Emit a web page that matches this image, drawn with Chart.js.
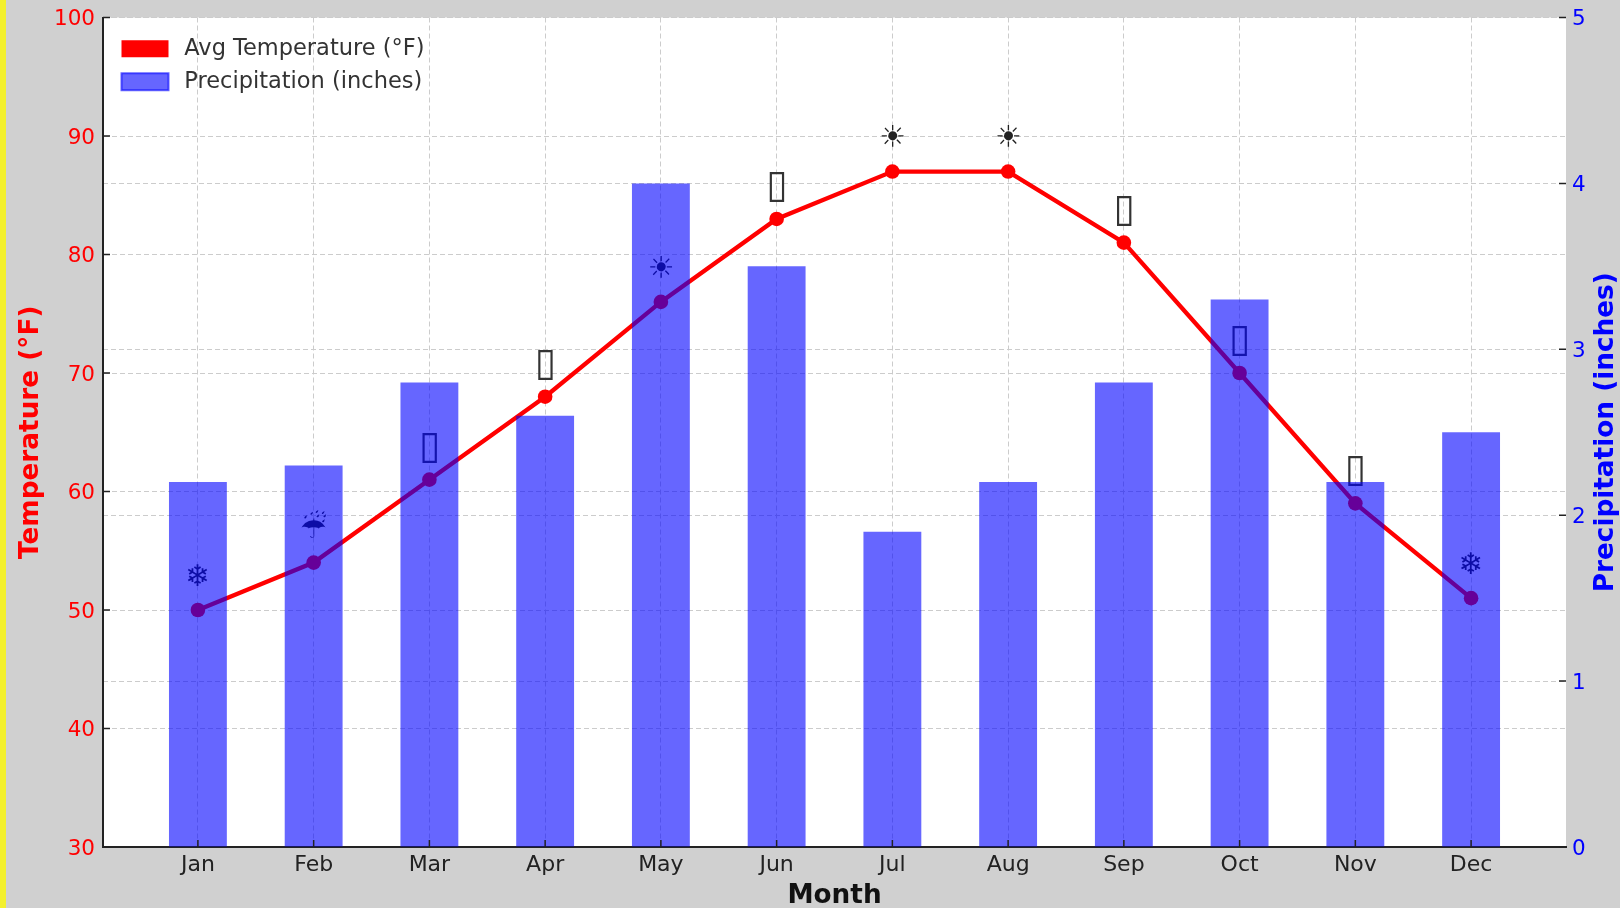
<!DOCTYPE html>
<html>
<head>
<meta charset="utf-8">
<title>Temperature and precipitation</title>
<script src="https://cdn.jsdelivr.net/npm/chart.js@4"></script>
<style>
  html, body { margin: 0; padding: 0; background: #d0d0d0; overflow: hidden; }
  #wrap { position: absolute; left: 0; top: 0; width: 1620px; height: 908px; }
  #strip { position: absolute; left: 0; top: 0; width: 6px; height: 908px; background: #f3f02e; }
</style>
</head>
<body>
<div id="wrap"><canvas id="climateChart" width="1620" height="908"></canvas></div>
<div id="strip"></div>
<script>
const MONTHS = ['Jan', 'Feb', 'Mar', 'Apr', 'May', 'Jun', 'Jul', 'Aug', 'Sep', 'Oct', 'Nov', 'Dec'];
const TEMPERATURE = [50, 54, 61, 68, 76, 83, 87, 87, 81, 70, 59, 51];
const PRECIPITATION = [2.2, 2.3, 2.8, 2.6, 4.0, 3.5, 1.9, 2.2, 2.8, 3.3, 2.2, 2.5];
// the picture shows empty boxes where its font had no glyph
const BOX = '▯';
const ICONS = ['❄', '☔', BOX, BOX, '☀', BOX, '☀', '☀', BOX, BOX, BOX, '❄'];
const ICON_OFFSET = 3;
const FONT = '"DejaVu Sans"';

const toPoints = (values) => values.map((v, i) => ({ x: i, y: v }));

// white plot area, inward ticks, icons and the bottom-to-top right title
const decorPlugin = {
  id: 'decor',
  afterLayout(chart) {
    chart.legend.left += 8;
    chart.legend.top += 27;
    // y tick labels sit a little low in the picture
    [chart.scales.y, chart.scales.y2].forEach((scale) => {
      scale.getLabelItems(chart.chartArea).forEach((item) => {
        item.options.translation[1] += 2;
      });
    });
  },
  beforeDraw(chart) {
    const a = chart.chartArea;
    const ctx = chart.ctx;
    ctx.save();
    ctx.fillStyle = '#ffffff';
    ctx.fillRect(a.left, a.top, a.right - a.left, a.bottom - a.top);
    ctx.restore();
  },
  beforeDatasetsDraw(chart) {
    const ctx = chart.ctx;
    const x = chart.scales.x;
    const y = chart.scales.y;
    ctx.save();
    ctx.textAlign = 'center';
    ctx.textBaseline = 'middle';
    ICONS.forEach((icon, i) => {
      ctx.font = (icon === BOX ? 39 : 30) + 'px ' + FONT;
      ctx.fillStyle = icon === BOX ? '#333333' : '#222222';
      ctx.fillText(icon, x.getPixelForValue(i), y.getPixelForValue(TEMPERATURE[i] + ICON_OFFSET) + 3.5);
    });
    ctx.restore();
  },
  afterDraw(chart) {
    const ctx = chart.ctx;
    const a = chart.chartArea;
    const { x, y, y2 } = chart.scales;
    ctx.save();
    ctx.strokeStyle = '#222222';
    ctx.lineWidth = 1.5;
    ctx.beginPath();
    x.ticks.forEach((t) => {
      const px = x.getPixelForValue(t.value);
      ctx.moveTo(px, a.bottom);
      ctx.lineTo(px, a.bottom - 7);
    });
    y.ticks.forEach((t) => {
      const py = y.getPixelForValue(t.value);
      ctx.moveTo(a.left, py);
      ctx.lineTo(a.left + 7, py);
    });
    y2.ticks.forEach((t) => {
      const py = y2.getPixelForValue(t.value);
      ctx.moveTo(a.right, py);
      ctx.lineTo(a.right - 7, py);
    });
    ctx.stroke();
    ctx.translate(1606, (a.top + a.bottom) / 2);
    ctx.rotate(-Math.PI / 2);
    ctx.font = 'bold 26.3px ' + FONT;
    ctx.fillStyle = '#0000ff';
    ctx.textAlign = 'center';
    ctx.textBaseline = 'middle';
    ctx.fillText('Precipitation (inches)', 0, 0);
    ctx.restore();
  }
};

const climateChart = new Chart(document.getElementById('climateChart').getContext('2d'), {
  data: {
    datasets: [
      {
        type: 'line',
        label: 'Avg Temperature (°F)',
        data: toPoints(TEMPERATURE),
        yAxisID: 'y',
        borderColor: '#ff0000',
        backgroundColor: '#ff0000',
        borderWidth: 4.3,
        pointRadius: 7.3,
        pointBackgroundColor: '#ff0000',
        pointBorderWidth: 0,
        tension: 0,
        order: 2
      },
      {
        type: 'bar',
        label: 'Precipitation (inches)',
        data: toPoints(PRECIPITATION),
        yAxisID: 'y2',
        backgroundColor: 'rgba(0, 0, 255, 0.6)',
        borderColor: 'rgba(0, 0, 255, 0.6)',
        borderWidth: 0,
        barPercentage: 0.5,
        categoryPercentage: 1,
        order: 1
      }
    ]
  },
  options: {
    responsive: false,
    animation: false,
    layout: { padding: { top: 17.5, right: 0, bottom: 0, left: 0 } },
    plugins: {
      title: { display: false },
      tooltip: { enabled: false },
      legend: {
        position: 'chartArea',
        align: 'start',
        labels: {
          font: { family: FONT, size: 22.5 },
          color: '#333333',
          boxWidth: 47,
          boxHeight: 17,
          padding: 10.5,
          sort: (a, b) => a.datasetIndex - b.datasetIndex,
          generateLabels(chart) {
            return Chart.defaults.plugins.legend.labels.generateLabels(chart).map((item) => ({
              ...item,
              text: '\u2009' + item.text,
              lineWidth: item.datasetIndex === 1 ? 2 : 0
            }));
          }
        }
      }
    },
    scales: {
      x: {
        type: 'linear',
        offset: false,
        min: -0.82,
        max: 11.82,
        afterBuildTicks(scale) {
          scale.ticks = MONTHS.map((m, i) => ({ value: i }));
        },
        afterFit(scale) { scale.height = 61; },
        ticks: {
          autoSkip: false,
          maxRotation: 0,
          padding: 5,
          color: '#222222',
          font: { family: FONT, size: 22 },
          callback: (value) => MONTHS[value]
        },
        grid: { offset: false, color: '#cccccc', drawTicks: false, tickLength: 0 },
        border: { display: true, color: '#222222', width: 2, dash: [5, 3] },
        title: { display: true, text: 'Month', color: '#111111', font: { family: FONT, size: 26.3, weight: 'bold' }, padding: { top: -3.5, bottom: -3.5 } }
      },
      y: {
        position: 'left',
        min: 30,
        max: 100,
        afterFit(scale) {
          scale.width = 103;
          scale.paddingTop = 0;
          scale.paddingBottom = 0;
        },
        ticks: { stepSize: 10, padding: 8, color: '#ff0000', font: { family: FONT, size: 21.5 } },
        grid: { color: '#cccccc', drawTicks: false, tickLength: 0 },
        border: { display: true, color: '#222222', width: 2, dash: [5, 3] },
        title: { display: true, text: 'Temperature (°F)', color: '#ff0000', font: { family: FONT, size: 26.3, weight: 'bold' }, padding: { top: 15, bottom: 0 } }
      },
      y2: {
        position: 'right',
        min: 0,
        max: 5,
        afterFit(scale) {
          scale.width = 54;
          scale.paddingTop = 0;
          scale.paddingBottom = 0;
        },
        ticks: { stepSize: 1, padding: 6, color: '#0000ff', font: { family: FONT, size: 21.5 } },
        grid: { color: '#cccccc', drawTicks: false, tickLength: 0 },
        border: { display: false, dash: [5, 3] }
      }
    }
  },
  plugins: [decorPlugin]
});
</script>
</body>
</html>
